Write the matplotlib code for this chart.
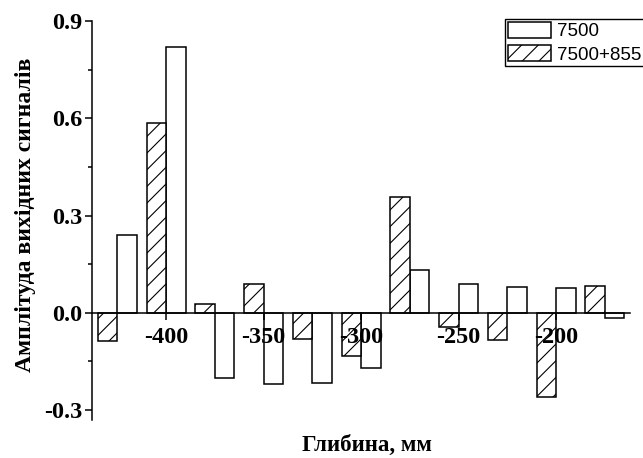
import numpy as np
import matplotlib.pyplot as plt

# depth positions (mm) and output signal amplitudes
depth = [-425, -400, -375, -350, -325, -300, -275, -250, -225, -200, -175]
amp_7500 = [0.239, 0.819, -0.201, -0.219, -0.217, -0.170, 0.132, 0.089, 0.078, 0.075, -0.015]
amp_7500_855 = [-0.087, 0.584, 0.027, 0.088, -0.082, -0.134, 0.356, -0.045, -0.084, -0.261, 0.081]
xticks = [-400, -350, -300, -250, -200]
yticks = [-0.3, 0.0, 0.3, 0.6, 0.9]

plt.rcParams['hatch.linewidth'] = 0.8
serif = {'family': 'Liberation Serif', 'weight': 'bold'}

fig = plt.figure(figsize=(6.43, 4.58), dpi=100)
ax = fig.add_axes([0.143, 0.0836, 0.837, 0.8705])

x = np.array(depth)
w = 10
ax.bar(x + w / 2, amp_7500, width=w, color='white', edgecolor='black',
       linewidth=1.1, label='7500')
ax.bar(x - w / 2, amp_7500_855, width=w, color='white', edgecolor='black',
       linewidth=1.1, hatch='//', label='7500+855')

ax.set_xlim(-438, -162)
ax.set_ylim(-0.33, 0.9)
ax.spines['top'].set_visible(False)
ax.spines['right'].set_visible(False)
ax.spines['bottom'].set_position(('data', 0))
ax.spines['left'].set_linewidth(1.1)
ax.spines['bottom'].set_linewidth(1.1)

ax.set_xticks(xticks)
ax.set_xticklabels([str(t) for t in xticks], fontdict=serif, fontsize=17.5)
ax.set_yticks(yticks)
ax.set_yticklabels(['%.1f' % t for t in yticks], fontdict=serif, fontsize=17.5)
ax.set_yticks([-0.15, 0.15, 0.45, 0.75], minor=True)
ax.tick_params(axis='both', which='major', direction='out', length=5, width=1.1)
ax.tick_params(axis='y', which='minor', direction='out', length=3, width=1.1)
ax.tick_params(axis='x', pad=5)
ax.tick_params(axis='y', pad=2)

fig.text(0.571, 0.028, 'Глибина, мм', ha='center', va='center',
         fontsize=16.5, **serif)
fig.text(0.040, 0.53, 'Амплітуда вихідних сигналів', ha='center', va='center',
         rotation=90, fontsize=17, **serif)

leg = ax.legend(loc='upper left', bbox_to_anchor=(505 / 643, 1 - 19 / 458),
                bbox_transform=fig.transFigure, prop={'family': 'Liberation Sans', 'size': 13.5},
                frameon=True, fancybox=False, edgecolor='black', framealpha=1,
                handlelength=2.3, handleheight=0.95, handletextpad=0.35,
                labelspacing=0.25, borderpad=0.15, borderaxespad=0)
leg.get_frame().set_linewidth(1.0)

plt.savefig('out.png', dpi=100)
